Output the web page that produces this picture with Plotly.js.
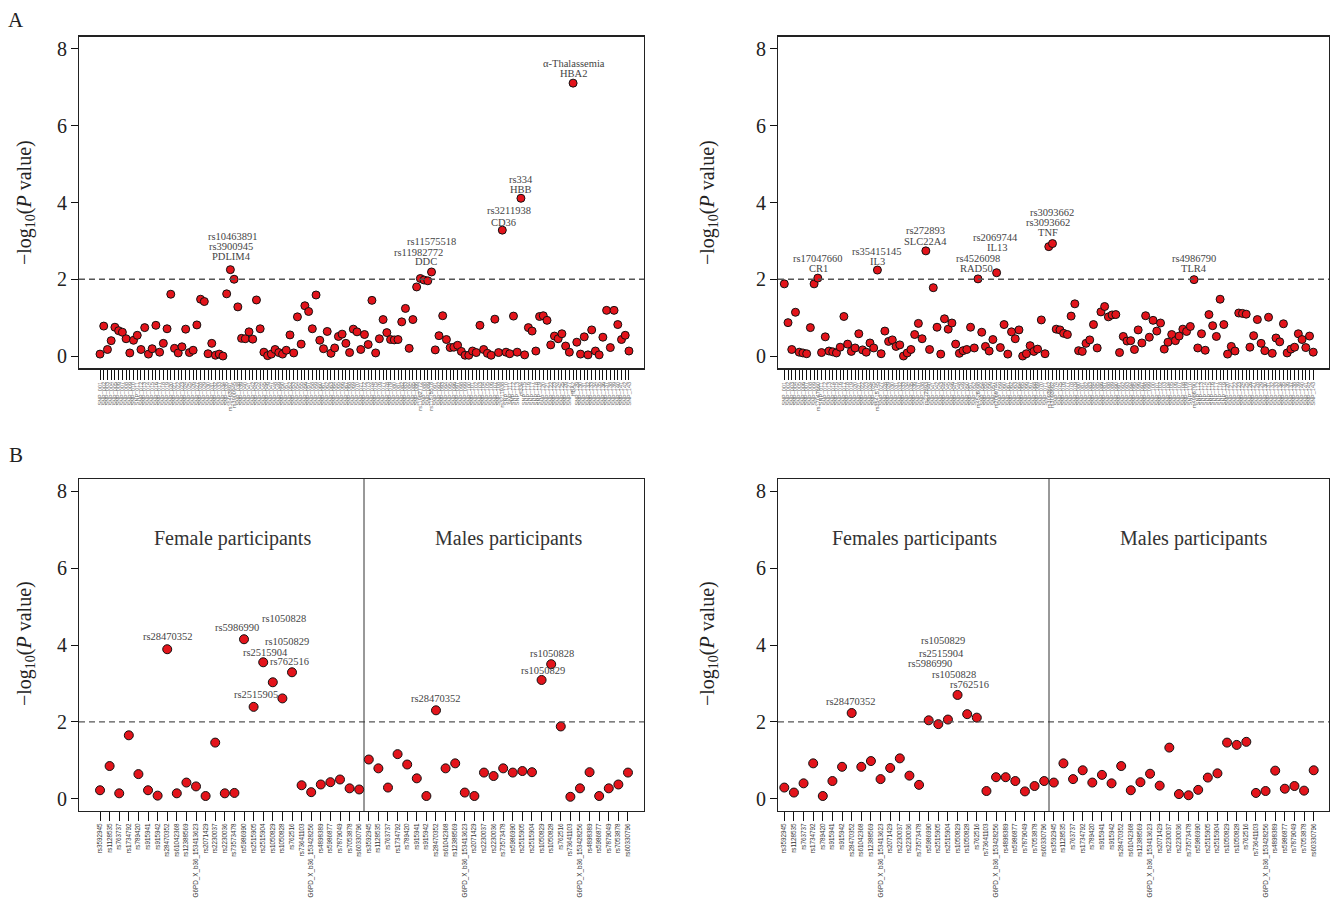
<!DOCTYPE html>
<html><head><meta charset="utf-8">
<script src="https://cdn.plot.ly/plotly-3.0.1.min.js"></script>
<style>html,body{margin:0;padding:0;background:#fff}#chart{width:1337px;height:902px}</style>
</head><body><div id="chart"></div>
<script>
// ---------- DATA ----------
const topLeftP = [0.05,0.78,0.17,0.40,0.75,0.66,0.62,0.45,0.08,0.41,
 0.54,0.17,0.74,0.05,0.19,0.80,0.10,0.33,0.71,1.61,
 0.20,0.08,0.24,0.70,0.09,0.15,0.81,1.48,1.42,0.06,
 0.33,0.02,0.05,0.00,1.62,2.25,2.00,1.28,0.46,0.45,
 0.63,0.44,1.46,0.71,0.10,0.01,0.05,0.17,0.09,0.05,
 0.15,0.55,0.08,1.02,0.31,1.31,1.16,0.71,1.59,0.41,
 0.19,0.64,0.07,0.21,0.51,0.57,0.33,0.09,0.70,0.63,
 0.17,0.56,0.30,1.45,0.08,0.45,0.95,0.61,0.43,0.42,
 0.43,0.89,1.24,0.20,0.95,1.80,2.02,1.98,1.96,2.19,
 0.16,0.53,1.05,0.43,0.22,0.23,0.28,0.12,0.02,0.02,
 0.13,0.09,0.80,0.17,0.07,0.02,0.96,0.09,3.28,0.10,
 0.06,1.04,0.10,4.11,0.03,0.74,0.65,0.13,1.03,1.05,
 0.93,0.29,0.52,0.45,0.58,0.26,0.10,7.11,0.36,0.05,
 0.50,0.03,0.68,0.13,0.03,0.49,1.19,0.22,1.19,0.82,
 0.43,0.54,0.13];
const topRightP = [1.88,0.87,0.17,1.14,0.10,0.08,0.06,0.74,1.88,2.03,
 0.09,0.50,0.13,0.11,0.08,0.23,1.03,0.31,0.12,0.21,
 0.58,0.16,0.10,0.34,0.21,2.24,0.06,0.65,0.38,0.42,
 0.25,0.29,0.00,0.08,0.17,0.56,0.85,0.45,2.74,0.17,
 1.78,0.75,0.05,0.97,0.70,0.86,0.31,0.07,0.14,0.17,
 0.75,0.21,2.01,0.62,0.25,0.13,0.43,2.17,0.22,0.82,
 0.05,0.63,0.45,0.68,0.00,0.06,0.27,0.12,0.18,0.94,
 0.06,2.85,2.93,0.70,0.68,0.59,0.56,1.04,1.36,0.14,
 0.12,0.33,0.42,0.82,0.21,1.15,1.29,1.02,1.07,1.08,
 0.09,0.51,0.39,0.40,0.17,0.68,0.34,1.05,0.49,0.93,
 0.65,0.86,0.18,0.36,0.56,0.40,0.52,0.70,0.64,0.77,
 1.99,0.21,0.58,0.15,1.08,0.79,0.51,1.48,0.82,0.05,
 0.25,0.13,1.12,1.11,1.09,0.23,0.53,0.95,0.33,0.14,
 1.01,0.07,0.47,0.37,0.84,0.08,0.18,0.23,0.58,0.43,
 0.22,0.52,0.10];

// SNP names of panel B (same order for each sex)
const snpsB = ['rs3592945','rs1128535','rs763737','rs1734792','rs789420','rs915941','rs915942',
 'rs28470352','rs61042368','rs12388569','G6PD_X_b36_153413623','rs2071429','rs2230037','rs2230036',
 'rs73573478','rs5986990','rs2515905','rs2515904','rs1050829','rs1050828','rs762516','rs73641103',
 'G6PD_X_b36_153428256','rs4898389','rs5986877','rs7879049','rs7053878','rs60330796'];
const femaleLeftP = [0.22,0.85,0.14,1.65,0.64,0.22,0.08,3.89,0.14,0.42,0.32,0.07,1.46,0.14,
 0.15,4.15,2.39,3.55,3.03,2.61,3.29,0.35,0.17,0.37,0.43,0.50,0.27,0.24];
const maleLeftP = [1.02,0.79,0.29,1.16,0.89,0.53,0.07,2.30,0.79,0.92,0.16,0.07,0.68,0.59,
 0.79,0.68,0.72,0.69,3.09,3.50,1.88,0.05,0.27,0.69,0.07,0.27,0.37,0.68];
const femaleRightP = [0.29,0.16,0.40,0.92,0.07,0.46,0.83,2.23,0.83,0.98,0.51,0.80,1.05,0.60,
 0.36,2.04,1.94,2.06,2.70,2.20,2.11,0.20,0.56,0.56,0.46,0.19,0.33,0.46];
const maleRightP = [0.42,0.92,0.51,0.74,0.42,0.62,0.40,0.85,0.22,0.43,0.65,0.34,1.33,0.12,
 0.09,0.23,0.55,0.66,1.46,1.40,1.48,0.15,0.20,0.73,0.26,0.33,0.21,0.74];

// annotated SNPs in panel A (index is 1-based position on the axis)
const labelsTopLeft = {36:'rs10463891',37:'rs3900945',87:'rs11982772',90:'rs11575518',109:'rs3211938',114:'rs334',128:'HBA2'};
const labelsTopRight = {10:'rs17047660',26:'rs35415145',39:'rs272893',53:'rs4526098',58:'rs2069744',72:'rs3093662',73:'rs3093662',111:'rs4986790'};

const threshold = 2;

// ---------- BUILD ----------
const idx = arr => arr.map((_, i) => i + 1);
const tl = (arr, named) => arr.map((_, i) => named[i+1] || ('SNP_' + String(i+1).padStart(3,'0')));

const RED = '#e3141b';
const mk = s => ({size: s, color: RED, line: {color: '#111', width: 1}});
const bottomY = femaleLeftP.concat(maleLeftP);
const bottomY2 = femaleRightP.concat(maleRightP);
const bottomNames = snpsB.concat(snpsB);

const traces = [
 {x: idx(topLeftP), y: topLeftP, type:'scatter', mode:'markers', marker: mk(8), xaxis:'x', yaxis:'y', hoverinfo:'y'},
 {x: idx(topRightP), y: topRightP, type:'scatter', mode:'markers', marker: mk(8), xaxis:'x2', yaxis:'y2', hoverinfo:'y'},
 {x: idx(bottomY), y: bottomY, type:'scatter', mode:'markers', marker: mk(9), xaxis:'x3', yaxis:'y3', hoverinfo:'y'},
 {x: idx(bottomY2), y: bottomY2, type:'scatter', mode:'markers', marker: mk(9), xaxis:'x4', yaxis:'y4', hoverinfo:'y'}
];

const W = 1337, H = 902;
const px = v => v / W, py = v => 1 - v / H;
const SERIF = 'Liberation Serif, Times New Roman, serif';
const SANS = 'Liberation Sans, Arial, sans-serif';

const yax = (d) => ({domain: d, range: [-0.32, 8.32], tickvals: [0,2,4,6,8], ticks: 'outside', ticklen: 7,
  tickcolor: '#111', tickfont: {family: SERIF, size: 20, color: '#222'}, showline: true, mirror: true,
  linecolor: '#222', linewidth: 1, showgrid: false, zeroline: false, fixedrange: true});
const xaxTop = (d, r, arr, named) => ({domain: d, range: r, tickvals: idx(arr), ticktext: tl(arr, named),
  tickangle: -90, ticks: 'outside', ticklen: 10, tickwidth: 1, tickcolor: '#111',
  tickfont: {family: SANS, size: 5.5, color: '#666'}, showline: true, mirror: true, linecolor: '#222',
  linewidth: 1.5, showgrid: false, zeroline: false, fixedrange: true});
const xaxBot = (d, r) => ({domain: d, range: r, tickvals: idx(bottomNames), ticktext: bottomNames,
  tickangle: -90, ticks: 'outside', ticklen: 9, tickwidth: 1, tickcolor: '#111',
  tickfont: {family: SANS, size: 6.3, color: '#333'}, showline: true, mirror: true, linecolor: '#222',
  linewidth: 1, showgrid: false, zeroline: false, fixedrange: true});

const dTopY = [py(368.3), py(36.7)];
const dBotY = [py(811), py(479)];
const dLX = [px(79), px(644)];
const dRX = [px(778), px(1329)];

const ann = [];
const txt = (xr, yr, x, y, t, size, color, fam) => ann.push({xref: xr, yref: yr, x, y, text: t, showarrow: false,
  font: {family: fam || SERIF, size: size || 10.5, color: color || '#444'}, xanchor: 'center', yanchor: 'middle'});

// panel A left labels
txt('x','y',36.7,3.125,'rs10463891'); txt('x','y',36.2,2.86,'rs3900945'); txt('x','y',36.4,2.60,'PDLIM4');
txt('x','y',90.1,2.99,'rs11575518'); txt('x','y',86.6,2.71,'rs11982772'); txt('x','y',88.5,2.45,'DDC');
txt('x','y',110.8,3.78,'rs3211938'); txt('x','y',109.2,3.49,'CD36');
txt('x','y',114.0,4.61,'rs334'); txt('x','y',114.0,4.35,'HBB');
txt('x','y',128.2,7.62,'α-Thalassemia'); txt('x','y',128.2,7.36,'HBA2');
// panel A right labels
txt('x2','y2',10.05,2.53,'rs17047660'); txt('x2','y2',10.05,2.27,'CR1');
txt('x2','y2',25.9,2.73,'rs35415145'); txt('x2','y2',25.9,2.45,'IL3');
txt('x2','y2',39.0,3.26,'rs272893'); txt('x2','y2',39.0,2.99,'SLC22A4');
txt('x2','y2',57.8,3.09,'rs2069744'); txt('x2','y2',58.0,2.82,'IL13');
txt('x2','y2',52.9,2.54,'rs4526098'); txt('x2','y2',52.5,2.28,'RAD50');
txt('x2','y2',72.8,3.74,'rs3093662'); txt('x2','y2',71.9,3.47,'rs3093662'); txt('x2','y2',71.9,3.21,'TNF');
txt('x2','y2',111.1,2.54,'rs4986790'); txt('x2','y2',111.1,2.27,'TLR4');
// panel B left labels
txt('x3','y3',8.08,4.21,'rs28470352'); txt('x3','y3',15.27,4.45,'rs5986990'); txt('x3','y3',20.17,4.68,'rs1050828');
txt('x3','y3',20.48,4.08,'rs1050829'); txt('x3','y3',18.19,3.81,'rs2515904'); txt('x3','y3',20.69,3.57,'rs762516');
txt('x3','y3',17.25,2.70,'rs2515905'); txt('x3','y3',36.0,2.62,'rs28470352');
txt('x3','y3',48.08,3.79,'rs1050828'); txt('x3','y3',47.15,3.33,'rs1050829');
// panel B right labels
txt('x4','y4',7.93,2.52,'rs28470352'); txt('x4','y4',17.49,4.11,'rs1050829'); txt('x4','y4',17.28,3.77,'rs2515904');
txt('x4','y4',16.14,3.51,'rs5986990'); txt('x4','y4',18.63,3.22,'rs1050828'); txt('x4','y4',20.19,2.96,'rs762516');
// group titles
txt('x3','y3',14.85,6.76,'Female participants',20,'#333');
txt('x3','y3',43.6,6.76,'Males participants',20,'#333');
txt('x4','y4',14.57,6.76,'Females participants',20,'#333');
txt('x4','y4',43.56,6.76,'Males participants',20,'#333');
// panel letters
txt('paper','paper',px(16),py(20),'A',21,'#222');
txt('paper','paper',px(16),py(455),'B',21,'#222');
// y titles
const yt = '−log<sub>10</sub>(<i>P</i> value)';
[[25,203],[708,203],[25,644],[708,644]].forEach(([a,b]) => ann.push({xref:'paper', yref:'paper', x: px(a), y: py(b),
  text: yt, textangle: -90, showarrow: false, font: {family: SERIF, size: 20, color: '#222'}, xanchor:'center', yanchor:'middle'}));

const dash = (xr, yr) => ({type:'line', xref: xr + ' domain', yref: yr, x0: 0, x1: 1, y0: threshold, y1: threshold,
  line: {color: '#555', width: 1.4, dash: '6px,4px'}});
const divider = (xr, yr, xv) => ({type:'line', xref: xr, yref: yr + ' domain', x0: xv, x1: xv, y0: 0, y1: 1,
  line: {color: '#333', width: 1}});

const layout = {
  width: W, height: H, margin: {l:0, r:0, t:0, b:0}, paper_bgcolor: '#fff', plot_bgcolor: '#fff',
  showlegend: false,
  xaxis: Object.assign(xaxTop(dLX, [-4.64, 147.04], topLeftP, labelsTopLeft), {anchor: 'y'}),
  yaxis: Object.assign(yax(dTopY), {anchor: 'x'}),
  xaxis2: Object.assign(xaxTop(dRX, [-0.69, 147.23], topRightP, labelsTopRight), {anchor: 'y2'}),
  yaxis2: Object.assign(yax(dTopY), {anchor: 'x2'}),
  xaxis3: Object.assign(xaxBot(dLX, [-1.19, 57.67]), {anchor: 'y3'}),
  yaxis3: Object.assign(yax(dBotY), {anchor: 'x3'}),
  xaxis4: Object.assign(xaxBot(dRX, [0.345, 57.59]), {anchor: 'y4'}),
  yaxis4: Object.assign(yax(dBotY), {anchor: 'x4'}),
  shapes: [dash('x','y'), dash('x2','y2'), dash('x3','y3'), dash('x4','y4'),
           divider('x3','y3',28.5), divider('x4','y4',28.5)],
  annotations: ann
};
Plotly.newPlot('chart', traces, layout, {displayModeBar: false, staticPlot: true});
</script></body></html>
